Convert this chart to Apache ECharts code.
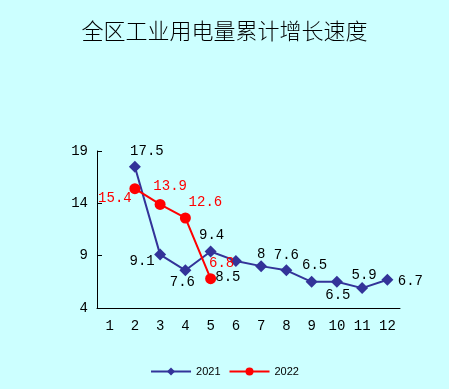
<!DOCTYPE html>
<html><head><meta charset="utf-8">
<script src="https://cdn.jsdelivr.net/npm/echarts@6/dist/echarts.min.js"></script>
<style>html,body{margin:0;padding:0;background:#CCFFFF;}#c{width:449px;height:389px;}</style>
</head><body><div id="c"></div>
<script>
const categories = ['1','2','3','4','5','6','7','8','9','10','11','12'];
const values2021 = [null,17.5,9.1,7.6,9.4,8.5,8,7.6,6.5,6.5,5.9,6.7];
const values2022 = [null,15.4,13.9,12.6,6.8];
const yTicks = [4,9,14,19];
const offsets2021 = [null,[12,-15],[-18,7],[-3,12],[1,-16],[-8,16],[0,-12],[0,-15],[3,-17],[1,13],[2,-13],[23,2]];
const offsets2022 = [null,[-20,10],[10,-18],[20,-16],[11,-15]];
const mono = 'Liberation Mono';
function build(vals, offs){
  return vals.map((v,i)=> v==null ? null : ({value:v, label:{offset:offs[i]}}));
}
const chart = echarts.init(document.getElementById('c'));
chart.setOption({
  backgroundColor:'#CCFFFF',
  animation:false,
  title:{text:'全区工业用电量累计增长速度',left:'center',top:15,
    textStyle:{fontFamily:'Noto Sans CJK SC',fontSize:22,fontWeight:300,color:'#000'}},
  grid:{left:97,right:49,top:151,bottom:81,containLabel:false},
  legend:{bottom:7,left:'center',itemWidth:40,itemHeight:10,itemGap:8,
    textStyle:{fontFamily:'Liberation Sans',fontSize:11,color:'#000'},
    data:['2021','2022']},
  xAxis:{type:'category',data:categories,boundaryGap:true,
    axisLine:{lineStyle:{color:'#000',width:1}},
    axisTick:{inside:true,length:5,lineStyle:{color:'#000'}},
    axisLabel:{fontFamily:mono,fontSize:14,color:'#000',margin:11}},
  yAxis:{type:'value',min:4,max:19,
    axisLine:{show:true,lineStyle:{color:'#000',width:1}},
    axisTick:{show:true,inside:true,length:5,customValues:yTicks,lineStyle:{color:'#000'}},
    axisLabel:{fontFamily:mono,fontSize:14,color:'#000',margin:9,customValues:yTicks},
    splitLine:{show:false}},
  series:[
    {name:'2021',type:'line',data:build(values2021,offsets2021),
      symbol:'diamond',symbolSize:12,connectNulls:false,
      itemStyle:{color:'#333399'},lineStyle:{color:'#333399',width:2},
      label:{show:true,position:'inside',fontFamily:mono,fontSize:14,color:'#000'}},
    {name:'2022',type:'line',data:build(values2022,offsets2022),
      symbol:'circle',symbolSize:11,
      itemStyle:{color:'#FF0000'},lineStyle:{color:'#FF0000',width:2},
      label:{show:true,position:'inside',fontFamily:mono,fontSize:14,color:'#FF0000'}}
  ]
});
</script></body></html>
